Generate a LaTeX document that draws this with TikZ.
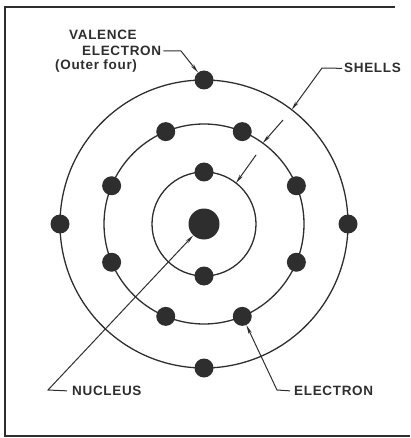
\documentclass[tikz,border=0pt]{standalone}
\usepackage{fontspec}
\setmainfont{Liberation Sans}[LetterSpace=5]
\usetikzlibrary{arrows.meta,calc}
\definecolor{ink}{HTML}{2E2E2E}
\tikzset{
  shell/.style={draw=ink, line width=1.3pt},
  electron/.style={circle, fill=ink, minimum size=19pt, inner sep=0pt},
  leader/.style={draw=ink, line width=1pt, -{Stealth[length=9pt,width=3.5pt]}},
  lbl/.style={anchor=base west, inner sep=0pt, text=ink, font=\fontsize{13.5}{15}\selectfont\bfseries},
}
\begin{document}
\begin{tikzpicture}[x=1pt,y=-1pt]
\useasboundingbox (0,0) rectangle (410,438);
\draw[ink, line width=1.8pt] (395,7) -- (5,7) -- (5,436) -- (410,436);
% shells
\coordinate (c) at (204,224);
\draw[shell] (c) circle[radius=52];
\draw[shell] (c) circle[radius=100];
\draw[shell] (c) circle[radius=144];
% nucleus and electrons
\node[electron, minimum size=31pt] (nucleus) at (c) {};
\foreach \a/\n in {90/i1, 270/i2}
  \node[electron] (\n) at ($(c)+(\a:52)$) {};
\foreach \k in {1,...,8}
  \node[electron] (m\k) at ($(c)+({45*\k-22.5}:100)$) {};
\foreach \a/\n in {0/o1, 90/o2, 180/o3, 270/o4}
  \node[electron] (\n) at ($(c)+(\a:144)$) {};
% labels
\node[lbl] (valence) at (69,39.5) {VALENCE};
\node[lbl] (velectron) at (82,55.5) {ELECTRON};
\node[lbl] (outer) at (55,70) {(Outer four)};
\node[lbl] (shells) at (344,73) {SHELLS};
\node[lbl] (nucl) at (72,395.5) {NUCLEUS};
\node[lbl] (electron) at (294,395.5) {ELECTRON};
% leaders
\coordinate (kv) at (181,51);
\coordinate (ks) at (322,68);
\coordinate (kn) at (48,390);
\coordinate (ke) at (277,390);
\coordinate (sm) at (283,120);
\coordinate (si) at (256,155);
\draw[leader] ([xshift=2pt]velectron.east) -- (kv) -- (o4);
\draw[leader] ([xshift=-2pt]shells.west) -- (ks) -- ($(c)+(307.5:144)$);
\draw[leader] (sm) -- ($(c)+(306:100)$);
\draw[leader] (si) -- ($(c)+(308:52)$);
\draw[leader] ([xshift=-5pt]nucl.west) -- (kn) -- (nucleus);
\draw[leader] ([xshift=-4pt]electron.west) -- (ke) -- (m2);
\end{tikzpicture}
\end{document}
